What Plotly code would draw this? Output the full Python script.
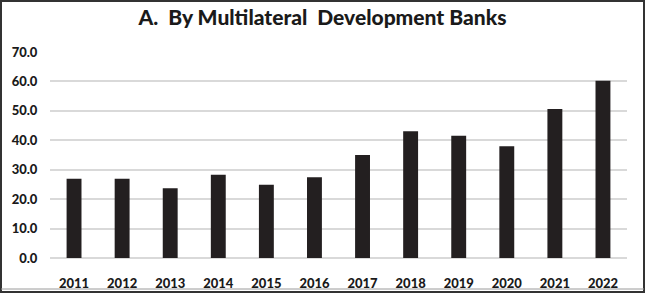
import plotly.graph_objects as go

years = ["2011", "2012", "2013", "2014", "2015", "2016", "2017", "2018", "2019", "2020", "2021", "2022"]
values = [26.9, 26.9, 23.7, 28.3, 24.9, 27.4, 35.0, 43.1, 41.5, 38.0, 50.6, 60.2]
y_ticks = [0, 10, 20, 30, 40, 50, 60, 70]
y_tick_labels = ["0.0", "10.0", "20.0", "30.0", "40.0", "50.0", "60.0", "70.0"]
title_text = "A.  By Multilateral  Development Banks"

W, H = 645, 293
ml, mr, mt, mb = 50, 18, 52, 35
pw, ph = W - ml - mr, H - mt - mb

fig = go.Figure(go.Bar(x=years, y=values, marker=dict(color="#231f20", line=dict(width=0)), width=0.31))

fig.update_layout(
    width=W, height=H,
    margin=dict(l=ml, r=mr, t=mt, b=mb, pad=0, autoexpand=False),
    paper_bgcolor="white", plot_bgcolor="white",
    showlegend=False,
    bargap=0.69,
    font=dict(family="Lato", color="#1a1a1a"),
    title=dict(text=title_text, x=0.5, xanchor="center", y=1 - 18 / H, yanchor="middle",
               font=dict(size=21, family="Lato", color="#1a1a1a", weight=900)),
    xaxis=dict(showgrid=False, showline=False, ticks="outside", ticklen=13, tickcolor="rgba(0,0,0,0)",
               tickfont=dict(size=13, family="Lato", color="#1a1a1a", weight=900), fixedrange=True),
    yaxis=dict(range=[0, 70], tickvals=y_ticks, ticktext=y_tick_labels,
               showgrid=True, gridcolor="#d9d9d9", gridwidth=1.5, zeroline=True, zerolinecolor="#d9d9d9",
               zerolinewidth=1.5, ticks="outside", ticklen=9, tickcolor="rgba(0,0,0,0)",
               tickfont=dict(size=13, family="Lato", color="#1a1a1a", weight=900), fixedrange=True),
    shapes=[dict(type="rect", xref="paper", yref="paper",
                 x0=(-ml + 1) / pw, x1=(pw + mr - 1) / pw,
                 y0=(-mb + 1) / ph, y1=(ph + mt - 1) / ph,
                 line=dict(color="#333333", width=2), fillcolor="rgba(0,0,0,0)", layer="above"),
            dict(type="line", xref="paper", yref="paper",
                 x0=(-ml + 1) / pw, x1=(pw + mr - 1) / pw,
                 y0=(-mb + 4) / ph, y1=(-mb + 4) / ph,
                 line=dict(color="#9a9a9a", width=1), layer="above")],
)

fig.write_html("out.html", post_script="document.body.style.margin='0';",
               config={"displayModeBar": False})
